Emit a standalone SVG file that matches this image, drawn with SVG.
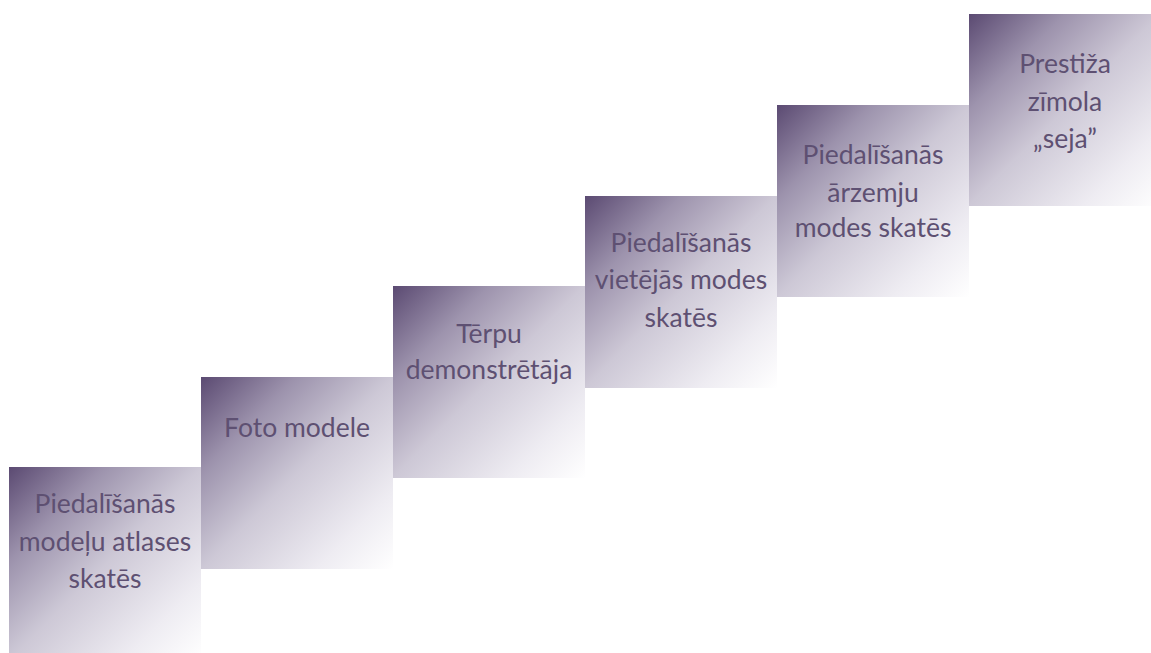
<svg xmlns="http://www.w3.org/2000/svg" width="1151" height="653" viewBox="0 0 1151 653">
<defs>
<linearGradient id="g" x1="0" y1="0" x2="1" y2="1">
<stop offset="0" stop-color="#5b4a72"/>
<stop offset="0.25" stop-color="#9d93ad"/>
<stop offset="0.5" stop-color="#cdc8d6"/>
<stop offset="0.8" stop-color="#eeecf2"/>
<stop offset="1" stop-color="#ffffff"/>
</linearGradient>
</defs>
<style>
.box{fill:url(#g);}
.t{font-family:Lato,"Open Sans","Liberation Sans",sans-serif;font-size:26.5px;fill:#5e5072;text-anchor:middle;}
</style>
<rect width="1151" height="653" fill="#ffffff"/>
<g id="step1">
<rect class="box" x="9" y="467" width="192" height="192"/>
<text class="t" x="105" y="513">Piedalīšanās</text>
<text class="t" x="105" y="551">modeļu atlases</text>
<text class="t" x="105" y="588">skatēs</text>
</g>
<g id="step2">
<rect class="box" x="201" y="377" width="192" height="192"/>
<text class="t" x="297" y="437">Foto modele</text>
</g>
<g id="step3">
<rect class="box" x="393" y="286" width="192" height="192"/>
<text class="t" x="489" y="343">Tērpu</text>
<text class="t" x="489" y="379">demonstrētāja</text>
</g>
<g id="step4">
<rect class="box" x="585" y="196" width="192" height="192"/>
<text class="t" x="681" y="252">Piedalīšanās</text>
<text class="t" x="681" y="289">vietējās modes</text>
<text class="t" x="681" y="327">skatēs</text>
</g>
<g id="step5">
<rect class="box" x="777" y="105" width="192" height="192"/>
<text class="t" x="873" y="164">Piedalīšanās</text>
<text class="t" x="873" y="202">ārzemju</text>
<text class="t" x="873" y="237">modes skatēs</text>
</g>
<g id="step6">
<rect class="box" x="969" y="14" width="192" height="192"/>
<text class="t" x="1065" y="73">Prestiža</text>
<text class="t" x="1065" y="111">zīmola</text>
<text class="t" x="1065" y="148">„seja”</text>
</g>
<g id="connectors"/>
</svg>
